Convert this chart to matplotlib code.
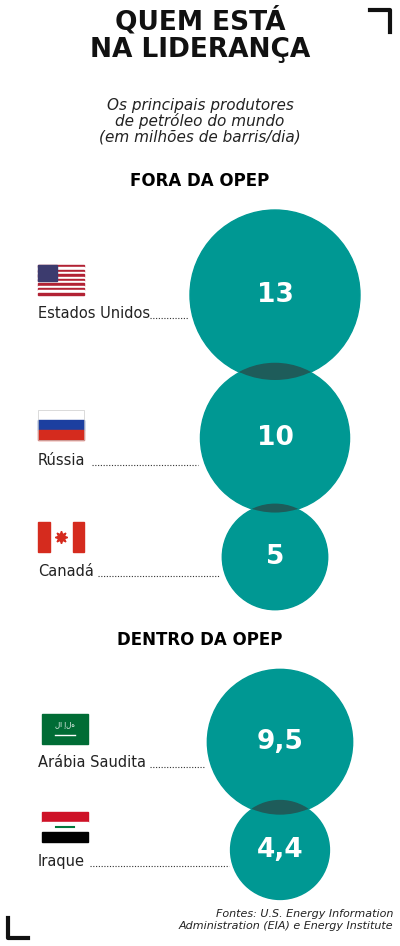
import matplotlib
matplotlib.use("Agg")
import matplotlib.pyplot as plt
from matplotlib.patches import Circle, Rectangle
import numpy as np

countries = ["Estados Unidos", "Rússia", "Canadá", "Arábia Saudita", "Iraque"]
values = [13, 10, 5, 9.5, 4.4]
labels = ["13", "10", "5", "9,5", "4,4"]
groups = ["fora", "fora", "fora", "dentro", "dentro"]

TEAL = "#009893"
DARK = "#1e5c5a"
fig = plt.figure(figsize=(4, 9.46), dpi=100)
ax = fig.add_axes([0, 0, 1, 1])
ax.set_xlim(0, 400); ax.set_ylim(946, 0); ax.axis("off")

cond = ["Liberation Sans Narrow", "DejaVu Sans"]
ax.text(200, 35, "QUEM ESTÁ\nNA LIDERANÇA", ha="center", va="center", fontsize=19,
        fontweight="bold", color="#111", linespacing=1.05)
ax.text(200, 121, "Os principais produtores\nde petróleo do mundo\n(em milhões de barris/dia)",
        ha="center", va="center", fontsize=11, style="italic", color="#222", linespacing=1.0)
ax.text(200, 181, "FORA DA OPEP", ha="center", va="center", fontsize=12, fontweight="bold")
ax.text(200, 640, "DENTRO DA OPEP", ha="center", va="center", fontsize=12, fontweight="bold")
ax.plot([370, 390, 390], [10, 10, 32], color="#111", lw=3)
ax.plot([8, 8, 28], [918, 938, 938], color="#111", lw=3)
ax.text(393, 920, "Fontes: U.S. Energy Information\nAdministration (EIA) e Energy Institute",
        ha="right", va="center", fontsize=8, style="italic", color="#222")

cy = [295, 438, 557, 742, 850]
cx = [275, 275, 275, 280, 280]
label_y = [313, 460, 571, 762, 861]
flag_y = [265, 410, 522, 714, 812]
text_end = [148, 90, 96, 148, 88]
radii = [85 * np.sqrt(v / 13) for v in values]

prev = None
for i, (v, lab) in enumerate(zip(values, labels)):
    c = Circle((cx[i], cy[i]), radii[i], color=TEAL, zorder=2)
    ax.add_patch(c)
    if prev is not None and groups[i] == groups[i - 1]:
        ov = Circle((cx[i], cy[i]), radii[i], color=DARK, zorder=3)
        ax.add_patch(ov)
        ov.set_clip_path(prev)
    prev = Circle((cx[i], cy[i]), radii[i], transform=ax.transData)
    ax.add_patch(prev); prev.set_visible(False)
    ax.text(cx[i], cy[i], lab, ha="center", va="center", color="white", fontsize=19,
            fontweight="bold", zorder=5)
    ax.text(38, label_y[i], countries[i], ha="left", va="center", fontsize=10.5,
            family=cond, color="#222")
    ax.plot([text_end[i] + 2, cx[i] - radii[i] - 2], [label_y[i] + 5] * 2, color="#333",
            lw=0.8, ls=(0, (1, 1.5)))

def rect(x, y, w, h, col, z=4):
    ax.add_patch(Rectangle((x, y), w, h, color=col, zorder=z))

# USA
x, y = 38, flag_y[0]
for k in range(13):
    rect(x, y + k * 30 / 13, 46, 30 / 13, "#b22234" if k % 2 == 0 else "white")
rect(x, y, 19, 16, "#3c3b6e", 5)
# Russia
x, y = 38, flag_y[1]
rect(x, y, 46, 10, "white"); rect(x, y + 10, 46, 10, "#1c3fa0"); rect(x, y + 20, 46, 10, "#d52b1e")
ax.add_patch(Rectangle((x, y), 46, 30, fill=False, ec="#ccc", lw=0.5, zorder=6))
# Canada
x, y = 38, flag_y[2]
rect(x, y, 46, 30, "white"); rect(x, y, 11.5, 30, "#d52b1e"); rect(x + 34.5, y, 11.5, 30, "#d52b1e")
ax.plot(x + 23, y + 15, marker=(8, 1, 0), ms=9, color="#d52b1e", zorder=6)
# Saudi
x, y = 42, flag_y[3]
rect(x, y, 46, 30, "#006c35")
ax.text(x + 23, y + 11, "لا إله", ha="center", va="center", fontsize=5, color="white", zorder=6)
ax.plot([x + 13, x + 33], [y + 21, y + 21], color="white", lw=1, zorder=6)
# Iraq
x, y = 42, flag_y[4]
rect(x, y, 46, 10, "#ce1126"); rect(x, y + 10, 46, 10, "white"); rect(x, y + 20, 46, 10, "black")
ax.plot([x + 14, x + 32], [y + 15, y + 15], color="#007a3d", lw=1.5, zorder=6)

fig.savefig("out.png", dpi=100)
